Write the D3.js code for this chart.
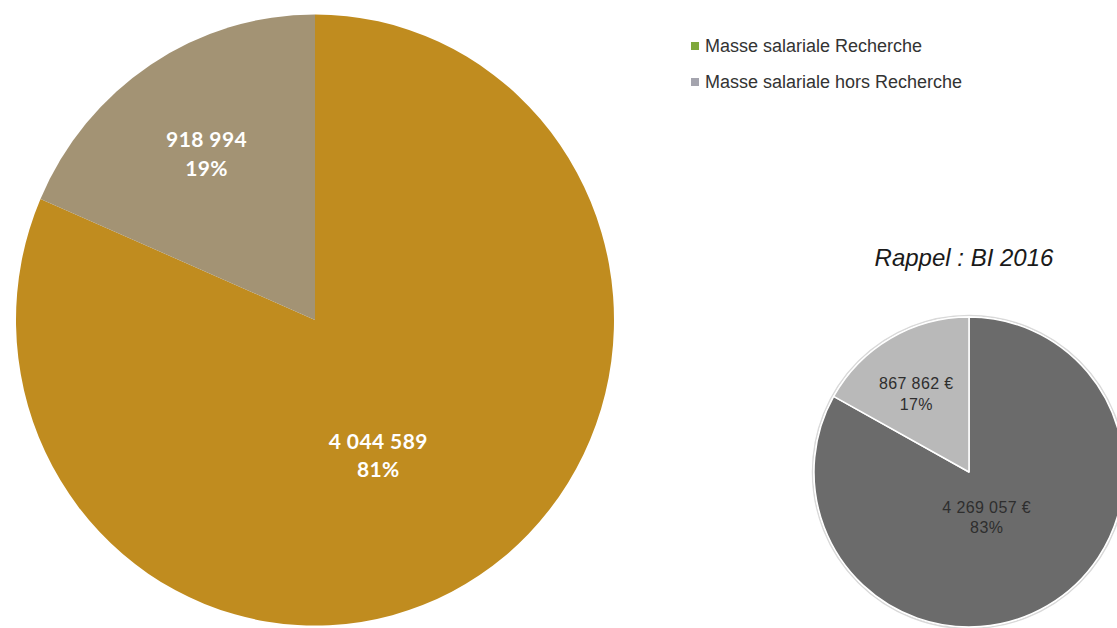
<!DOCTYPE html>
<html>
<head>
<meta charset="utf-8">
<script src="https://cdn.jsdelivr.net/npm/d3@7"></script>
<style>
  html, body { margin: 0; padding: 0; background: #ffffff; }
  svg { display: block; }
</style>
</head>
<body>
<svg id="chart" width="1117" height="628"></svg>
<script>
// Budget 2017 : masse salariale
const categories = ["Masse salariale Recherche", "Masse salariale hors Recherche"];
const values2017 = [4044589, 918994];
const labels2017 = ["4 044 589", "918 994"];
const pct2017 = ["81%", "19%"];

// Rappel : BI 2016
const values2016 = [4269057, 867862];
const labels2016 = ["4 269 057 €", "867 862 €"];
const pct2016 = ["83%", "17%"];

const legendColors = ["#7fa83c", "#a4a4ae"];

const svg = d3.select("#chart");
const pie = d3.pie().sort(null).value(d => d);

// ---- main pie ----
const big = { cx: 315, cy: 320, r: 299, sy: 1.022 };
const bigColors = d3.scaleOrdinal().domain(categories).range(["#c08c1f", "#a39374"]);
const bigArc = d3.arc().innerRadius(0).outerRadius(big.r);
const bigData = pie(values2017);

const gBig = svg.append("g")
  .attr("transform", `translate(${big.cx},${big.cy}) scale(1,${big.sy})`);
gBig.selectAll("path")
  .data(bigData)
  .join("path")
  .attr("d", bigArc)
  .attr("fill", (d, i) => bigColors(categories[i]));

// label placement: radius fraction and angular shift per slice
const bigLabelPos = [{ k: 0.485, shift: 0.13 }, { k: 0.66, shift: 0 }];
function polar(cx, cy, rr, a, sy) {
  return [cx + rr * Math.sin(a), cy - rr * Math.cos(a) * sy];
}
const gBigLabels = svg.append("g");
bigData.forEach((d, i) => {
  const mid = (d.startAngle + d.endAngle) / 2 + bigLabelPos[i].shift;
  const [x, y] = polar(big.cx, big.cy, big.r * bigLabelPos[i].k, mid, big.sy);
  const t = gBigLabels.append("text")
    .attr("x", x).attr("y", y)
    .attr("text-anchor", "middle")
    .attr("fill", "#ffffff")
    .attr("font-family", "Lato, 'Open Sans', sans-serif")
    .attr("font-weight", "bold")
    .attr("font-size", 21)
    .attr("letter-spacing", "0.4px");
  t.append("tspan").attr("x", x).attr("dy", "-0.2em").text(labels2017[i]);
  t.append("tspan").attr("x", x).attr("dy", "1.35em").text(pct2017[i]);
});

// ---- legend ----
const legend = svg.append("g").attr("transform", "translate(691,0)");
const legendY = d3.scalePoint().domain(categories).range([46, 82]);
categories.forEach((c, i) => {
  const y = legendY(c);
  legend.append("rect")
    .attr("x", 0).attr("y", y - 4).attr("width", 8).attr("height", 8)
    .attr("fill", legendColors[i]);
  legend.append("text")
    .attr("x", 14).attr("y", y + 6)
    .attr("font-family", "'Liberation Sans', Arial, sans-serif")
    .attr("font-size", 18)
    .attr("fill", "#333333")
    .text(c);
});

// ---- 2016 reminder pie ----
const small = { cx: 969, cy: 472, r: 155 };
const smallColors = d3.scaleOrdinal().domain(categories).range(["#6b6b6b", "#b9b9b9"]);
const smallArc = d3.arc().innerRadius(0).outerRadius(small.r);
const smallData = pie(values2016);

svg.append("text")
  .attr("x", 964).attr("y", 266)
  .attr("text-anchor", "middle")
  .attr("font-family", "'Liberation Sans', Arial, sans-serif")
  .attr("font-style", "italic")
  .attr("font-size", 24)
  .attr("fill", "#1a1a1a")
  .text("Rappel : BI 2016");

const gSmall = svg.append("g").attr("transform", `translate(${small.cx},${small.cy})`);
gSmall.append("circle")
  .attr("r", small.r + 1.5)
  .attr("fill", "none")
  .attr("stroke", "#d9d9d9")
  .attr("stroke-width", 1.5);
gSmall.selectAll("path")
  .data(smallData)
  .join("path")
  .attr("d", smallArc)
  .attr("fill", (d, i) => smallColors(categories[i]))
  .attr("stroke", "#ffffff")
  .attr("stroke-width", 1.5)
  .attr("stroke-linejoin", "round");

const smallLabelPos = [{ k: 0.30, shift: 0.14 }, { k: 0.62, shift: -0.05 }];
smallData.forEach((d, i) => {
  const mid = (d.startAngle + d.endAngle) / 2 + smallLabelPos[i].shift;
  const [x, y] = polar(small.cx, small.cy, small.r * smallLabelPos[i].k, mid, 1);
  const t = svg.append("text")
    .attr("x", x).attr("y", y)
    .attr("text-anchor", "middle")
    .attr("fill", "#2e2e2e")
    .attr("font-family", "'Liberation Sans', Arial, sans-serif")
    .attr("font-size", 16)
    .attr("letter-spacing", "0.4px");
  t.append("tspan").attr("x", x).attr("dy", "-0.15em").text(labels2016[i]);
  t.append("tspan").attr("x", x).attr("dy", "1.3em").text(pct2016[i]);
});
</script>
</body>
</html>
